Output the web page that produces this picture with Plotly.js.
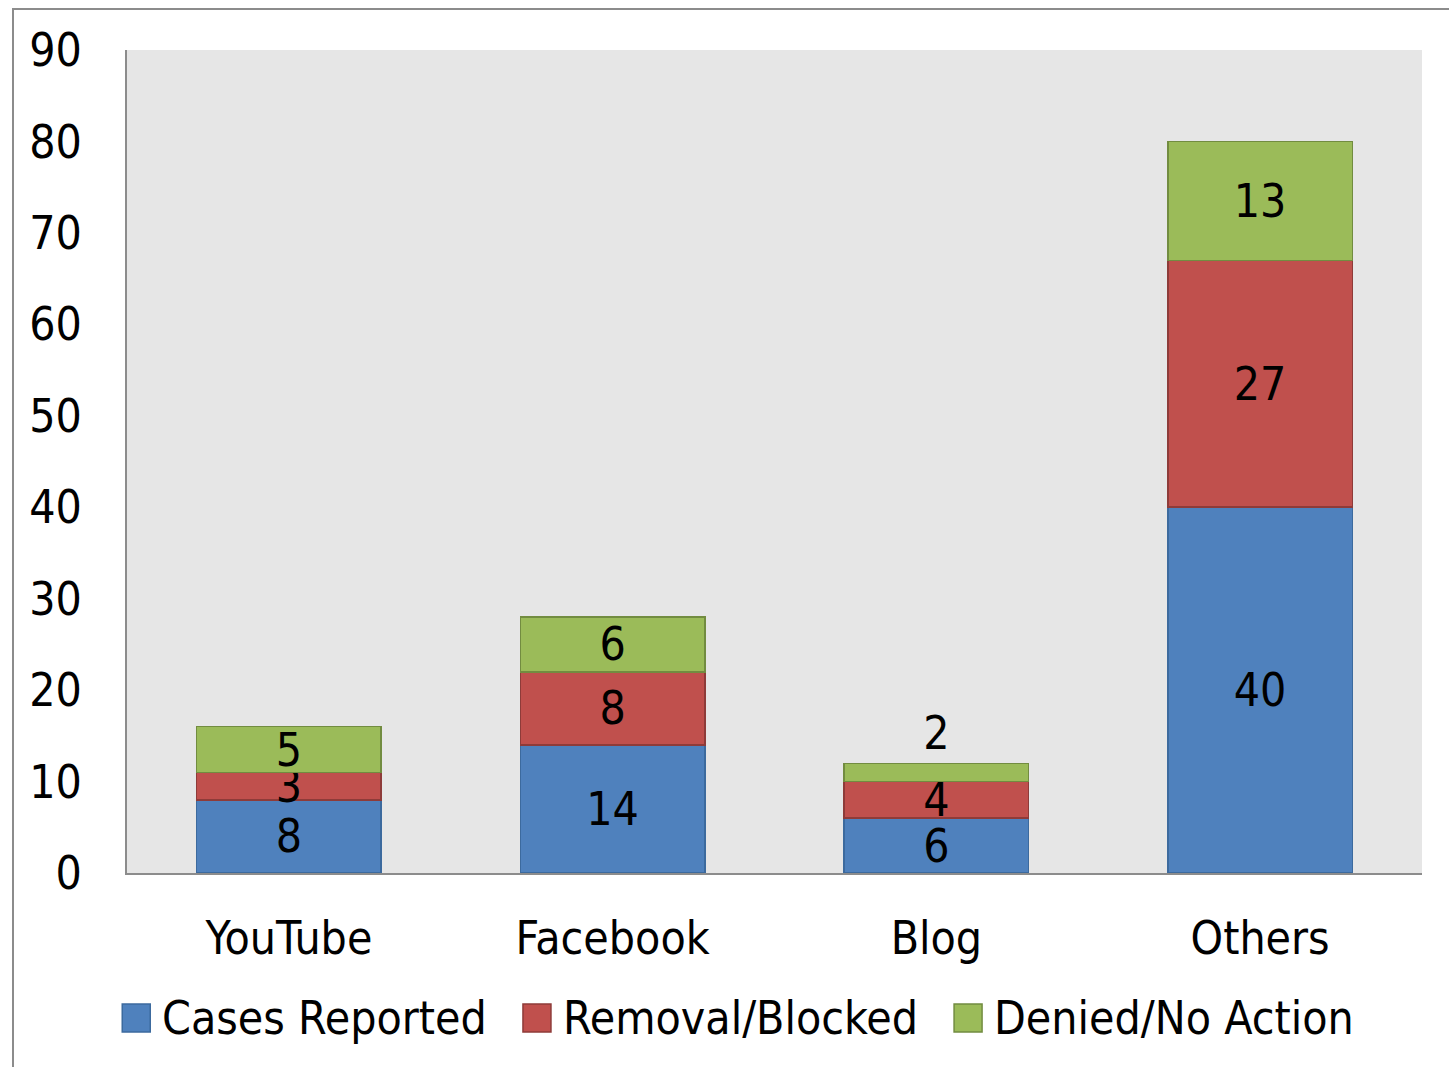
<!DOCTYPE html>
<html>
<head>
<meta charset="utf-8">
<script src="https://cdn.plot.ly/plotly-3.0.1.min.js"></script>
<style>
html,body{margin:0;padding:0;background:#fff;width:1449px;height:1067px;overflow:hidden;}
#frame{position:absolute;left:12px;top:8px;width:1500px;height:1200px;border-left:2px solid #8c8c8c;border-top:2px solid #8c8c8c;}
#chart{position:absolute;left:0;top:0;width:1449px;height:1067px;}
</style>
</head>
<body>
<div id="frame"></div>
<div id="chart"></div>
<script>
const categories = ["YouTube", "Facebook", "Blog", "Others"];
const casesReported = [8, 14, 6, 40];
const removalBlocked = [3, 8, 4, 27];
const deniedNoAction = [5, 6, 2, 13];
const seriesNames = ["Cases Reported", "Removal/Blocked", "Denied/No Action"];
const yTicks = [0, 10, 20, 30, 40, 50, 60, 70, 80, 90];

const FONT = '"DejaVu Sans Condensed", "DejaVu Sans", Tahoma, sans-serif';
const FS = 46;
const fills = ["#4F81BD", "#C0504D", "#9BBB59"];
const lines = ["#3C6A9E", "#8E3B39", "#728C40"];
const seriesVals = [casesReported, removalBlocked, deniedNoAction];

// plot-area geometry (px)
const W = 1449, H = 1067;
const M = {l: 127, r: 27, t: 50, b: 194};
const PW = W - M.l - M.r, PH = H - M.t - M.b;

const traces = seriesVals.map((vals, i) => ({
  type: "bar",
  name: seriesNames[i],
  x: categories,
  y: vals,
  text: vals.map(String),
  textposition: (i === 2) ? vals.map(v => v <= 2 ? "outside" : "inside") : "inside",
  insidetextanchor: "middle",
  constraintext: "none",
  textangle: 0,
  textfont: {family: FONT, size: FS, color: "#000"},
  outsidetextfont: {family: FONT, size: FS, color: "#000"},
  marker: {color: fills[i], line: {color: lines[i], width: 1.5}},
  hoverinfo: "none",
  cliponaxis: false,
  showlegend: false
}));

// custom legend (big squares like the reference)
const cvs = document.createElement("canvas").getContext("2d");
cvs.font = FS + "px " + FONT;
const textW = seriesNames.map(n => cvs.measureText(n).width);
const SQ = 28, GAP1 = 12, GAP2 = 36, LEG_CX = 738, LEG_CY = 1018;
const total = textW.reduce((a, w) => a + SQ + GAP1 + w, 0) + GAP2 * (seriesNames.length - 1);
let cur = LEG_CX - total / 2;
const px2x = p => (p - M.l) / PW;
const px2y = p => (H - M.b - p) / PH;
const shapes = [], annotations = [];
seriesNames.forEach((n, i) => {
  shapes.push({
    type: "rect", xref: "paper", yref: "paper",
    x0: px2x(cur), x1: px2x(cur + SQ),
    y0: px2y(LEG_CY + SQ / 2), y1: px2y(LEG_CY - SQ / 2),
    fillcolor: fills[i], line: {color: lines[i], width: 1.5}
  });
  annotations.push({
    xref: "paper", yref: "paper",
    x: px2x(cur + SQ + GAP1 - 2), y: px2y(LEG_CY),
    xanchor: "left", yanchor: "middle",
    text: n, showarrow: false,
    font: {family: FONT, size: FS, color: "#000"}
  });
  cur += SQ + GAP1 + textW[i] + GAP2;
});

const layout = {
  width: W,
  height: H,
  barmode: "stack",
  bargap: 0.43,
  paper_bgcolor: "rgba(0,0,0,0)",
  plot_bgcolor: "#E6E6E6",
  margin: M,
  font: {family: FONT, size: FS, color: "#000"},
  showlegend: false,
  shapes: shapes,
  annotations: annotations,
  xaxis: {
    type: "category",
    showline: true, linecolor: "#8c8c8c", linewidth: 2,
    ticks: "outside", ticklen: 24, tickcolor: "rgba(0,0,0,0)",
    showgrid: false, zeroline: false,
    tickfont: {family: FONT, size: FS, color: "#000"}
  },
  yaxis: {
    range: [0, 90],
    tickvals: yTicks,
    ticktext: yTicks.map(String),
    showline: true, linecolor: "#8c8c8c", linewidth: 2,
    ticks: "outside", ticklen: 34, tickcolor: "rgba(0,0,0,0)",
    showgrid: false, zeroline: false,
    tickfont: {family: FONT, size: FS, color: "#000"}
  }
};

Plotly.newPlot("chart", traces, layout, {staticPlot: true, displayModeBar: false});
</script>
</body>
</html>
